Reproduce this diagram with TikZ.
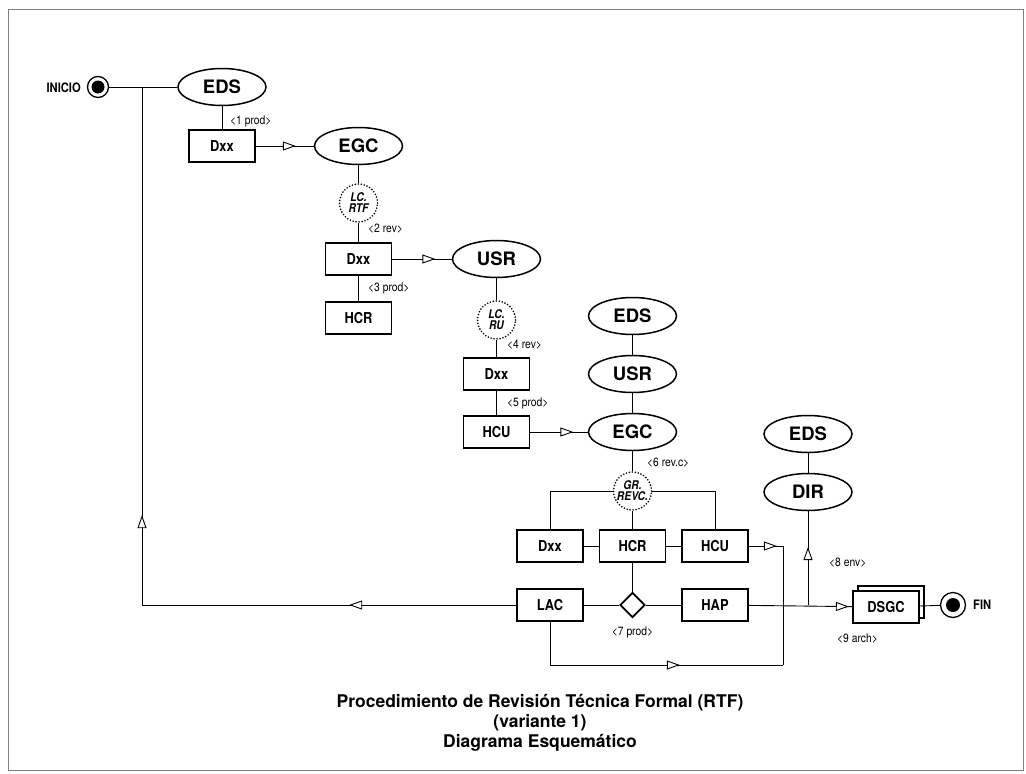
\documentclass[tikz,border=0pt]{standalone}
\usepackage{fontspec}
\setmainfont{TeX Gyre Heros}
\newfontfamily\narrowfont[FakeStretch=0.86]{TeX Gyre Heros}
\usetikzlibrary{arrows.meta,decorations.markings,shapes.geometric,shadows}

\begin{document}
\begin{tikzpicture}[x=1pt,y=-1pt,
  conn/.style={line width=0.9pt},
  oval/.style={ellipse, draw, line width=1.5pt, minimum width=88pt, minimum height=37pt,
    inner sep=0pt, fill=white, font=\fontsize{18.5}{18.5}\selectfont\bfseries},
  doc/.style={rectangle, draw, line width=1.7pt, minimum width=66pt, minimum height=32pt,
    inner sep=0pt, fill=white, font=\narrowfont\fontsize{15}{15}\selectfont\bfseries},
  check/.style={circle, draw, dash pattern=on 0pt off 3pt, line cap=round, line width=1.8pt,
    minimum size=38pt, inner sep=0pt, align=center, fill=white,
    font=\narrowfont\fontsize{12}{11}\selectfont\bfseries\itshape},
  tag/.style={font=\narrowfont\fontsize{12}{12}\selectfont, inner sep=0pt, anchor=west},
  lbl/.style={font=\narrowfont\fontsize{13}{13}\selectfont\bfseries, inner sep=0pt},
  term/.style={circle, draw, line width=1.3pt, minimum size=21pt, inner sep=0pt, fill=white,
    path picture={\fill[black] (path picture bounding box.center) circle (#1);}},
  tip/.style={postaction={decorate, decoration={markings,
    mark=at position #1 with {\arrow{Triangle[length=13pt,width=9pt,fill=white,line width=0.9pt]}}}}},
]
\useasboundingbox (0,0) rectangle (1026,774);
% outer frame
\draw[gray, line width=0.8pt] (8,9) rectangle (1023,770);

% start
\node[term=6.5pt] (inicio) at (98,87) {};
\node[lbl, anchor=east] (inicioL) at (81,88) {INICIO};

% first review round
\node[oval] (eds1) at (222,87) {EDS};
\node[doc] (dxx1) at (222,146) {Dxx};
\node[oval] (egc1) at (358.5,146) {EGC};
\node[check] (lc1) at (358.5,203) {LC.\\RTF};
\node[doc] (dxx2) at (358.5,259) {Dxx};
\node[oval] (usr1) at (496.5,259) {USR};
\node[doc] (hcr1) at (358.5,318) {HCR};

% second review round
\node[check] (lc2) at (496.5,320) {LC.\\RU};
\node[doc] (dxx3) at (496.5,374) {Dxx};
\node[doc] (hcu1) at (496.5,432) {HCU};
\node[oval] (eds2) at (632.5,316) {EDS};
\node[oval] (usr2) at (632.5,374) {USR};
\node[oval] (egc2) at (632.5,432) {EGC};

% review group
\node[check] (grc) at (632.5,491) {GR.\\REVC.};
\node[doc] (dxx4) at (550,546) {Dxx};
\node[doc] (hcr2) at (632.5,546) {HCR};
\node[doc] (hcu2) at (715,546) {HCU};
\node[doc] (lac) at (550,605) {LAC};
\node[diamond, draw, line width=1.7pt, minimum size=25pt, inner sep=0pt, fill=white] (dec) at (632.5,605) {};
\node[doc] (hap) at (715,605) {HAP};

% dispatch and archive
\node[oval] (eds3) at (808,434) {EDS};
\node[oval] (dir) at (808,492) {DIR};
\node[doc, copy shadow={shadow xshift=5pt, shadow yshift=5pt}] (dsgc) at (886,607) {DSGC};
\node[term=7pt, minimum size=25pt] (fin) at (953,605) {};
\node[lbl, anchor=west] (finL) at (973,605) {FIN};

% routing points
\coordinate (rb) at (142,605);
\coordinate (rt) at (142,87);
\coordinate (jr) at (783,546);
\coordinate (jb) at (783,665);
\coordinate (lb) at (550,665);
\coordinate (jd) at (808,605);

% connectors
\draw[conn] (inicio) -- (eds1);
\draw[conn, tip=167pt, tip=464pt] (lac.west) -- (rb) -- (rt);
\draw[conn] (eds1) -- (dxx1);
\draw[conn, tip=40pt] (dxx1) -- (egc1);
\draw[conn] (egc1) -- (lc1) -- (dxx2);
\draw[conn, tip=43pt] (dxx2) -- (usr1);
\draw[conn] (dxx2) -- (hcr1);
\draw[conn] (usr1) -- (lc2) -- (dxx3) -- (hcu1);
\draw[conn, tip=43pt] (hcu1) -- (egc2);
\draw[conn] (eds2) -- (usr2) -- (egc2) -- (grc) -- (hcr2) -- (dec);
\draw[conn] (dxx4.north) |- (grc.west);
\draw[conn] (hcu2.north) |- (grc.east);
\draw[conn] (dxx4) -- (hcr2) -- (hcu2);
\draw[conn] (lac) -- (dec) -- (hap);
\draw[conn, tip=28pt] (hcu2.east) -- (jr) -- (jb);
\draw[conn, tip=173pt] (lac.south) -- (lb) -- (jb);
\draw[conn, tip=100pt] (hap) -- (dsgc);
\draw[conn, tip=58pt] (jd) -- (dir);
\draw[conn] (eds3) -- (dir);
\draw[conn] (dsgc) -- (fin);

% step labels
\node[tag] (t1) at (230,121) {<1 prod>};
\node[tag] (t2) at (368,229) {<2 rev>};
\node[tag] (t3) at (368,288) {<3 prod>};
\node[tag] (t4) at (507,345) {<4 rev>};
\node[tag] (t5) at (507,403) {<5 prod>};
\node[tag] (t6) at (647,463) {<6 rev.c>};
\node[tag, anchor=center] (t7) at (632.5,632) {<7 prod>};
\node[tag] (t8) at (829,563) {<8 env>};
\node[tag] (t9) at (837,639) {<9 arch>};

% title
\node[align=center, font=\fontsize{17.5}{20}\selectfont\bfseries] (title) at (540,723)
  {Procedimiento de Revisión Técnica Formal (RTF)\\(variante 1)\\Diagrama Esquemático};
\end{tikzpicture}
\end{document}
